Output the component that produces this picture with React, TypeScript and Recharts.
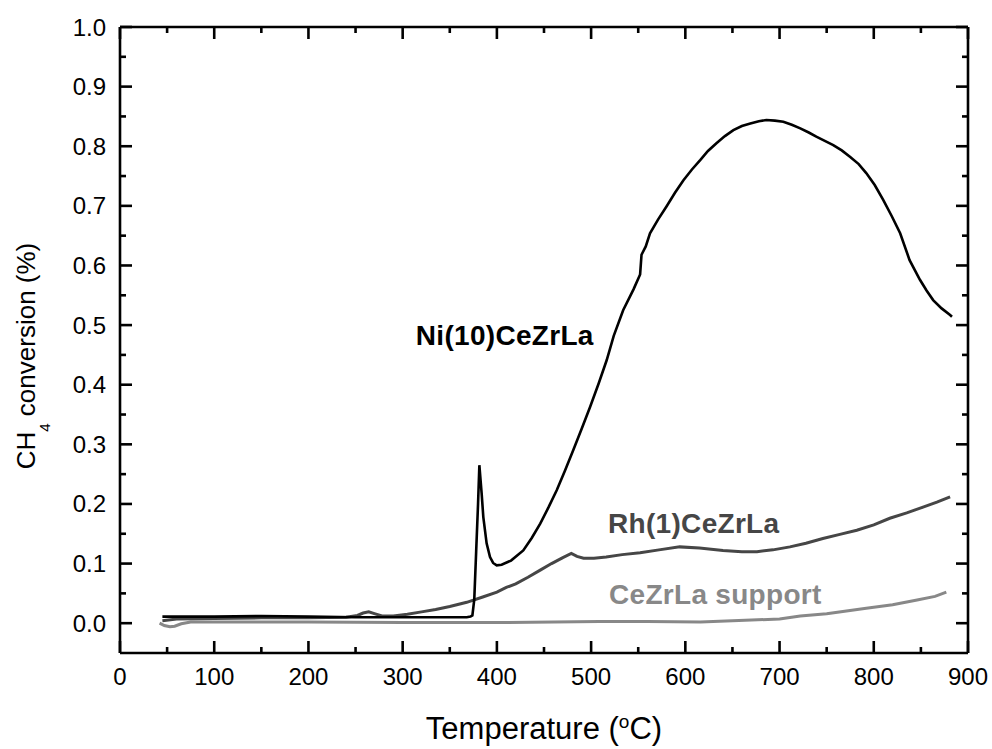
import React from 'react';
import { LineChart, Line, XAxis, YAxis, ReferenceDot } from 'recharts';

// Ni(10)CeZrLa
const niTemp = [45, 100, 150, 200, 250, 300, 350, 368, 372, 374, 376, 378, 380, 381.4, 383.8, 385.6, 389.1, 392.7, 396, 399.8, 405, 415, 428, 437, 446, 455, 463.5, 472, 481, 490, 499, 508, 516.5, 524, 534, 545, 552, 553.5, 558, 562.5, 571, 580, 589, 598, 607, 616, 624, 633, 642, 651, 660, 669, 678, 686, 695, 704, 713, 722, 731, 739, 748, 757, 766, 775, 784, 792, 801, 810, 819, 828, 838, 849, 856, 863, 872, 881, 883];
const niConv = [0.011, 0.011, 0.012, 0.011, 0.010, 0.010, 0.010, 0.010, 0.011, 0.013, 0.04, 0.12, 0.2, 0.265, 0.218, 0.178, 0.134, 0.111, 0.101, 0.097, 0.098, 0.105, 0.122, 0.143, 0.167, 0.195, 0.223, 0.255, 0.29, 0.326, 0.363, 0.402, 0.441, 0.482, 0.525, 0.56, 0.585, 0.618, 0.632, 0.654, 0.677, 0.699, 0.722, 0.743, 0.761, 0.777, 0.792, 0.805, 0.817, 0.827, 0.834, 0.838, 0.842, 0.844, 0.843, 0.841, 0.836, 0.83, 0.823, 0.816, 0.809, 0.802, 0.793, 0.782, 0.77, 0.755, 0.735, 0.71, 0.683, 0.654, 0.609, 0.576, 0.558, 0.542, 0.528, 0.517, 0.514];

// Rh(1)CeZrLa
const rhTemp = [45, 60, 100, 150, 200, 240, 252, 258, 264, 270, 278, 290, 305, 320, 335, 350, 368, 385, 400, 410, 420, 433, 446, 458, 470, 479, 485, 492, 503, 516, 533, 552, 572, 594, 615, 640, 660, 676, 693, 711, 728, 746, 764, 782, 800, 817, 835, 853, 867, 881];
const rhConv = [0.004, 0.007, 0.008, 0.009, 0.009, 0.010, 0.013, 0.017, 0.019, 0.016, 0.012, 0.012, 0.015, 0.019, 0.023, 0.028, 0.035, 0.044, 0.052, 0.06, 0.066, 0.077, 0.089, 0.1, 0.11, 0.117, 0.112, 0.109, 0.109, 0.111, 0.115, 0.118, 0.123, 0.128, 0.126, 0.122, 0.12, 0.12, 0.123, 0.128, 0.134, 0.142, 0.149, 0.156, 0.165, 0.176, 0.185, 0.195, 0.203, 0.212];

// CeZrLa support
const supTemp = [42, 47, 53, 58, 65, 75, 100, 200, 300, 400, 509, 560, 616, 650, 700, 722, 750, 792, 820, 846, 865, 877];
const supConv = [0.0, -0.004, -0.006, -0.005, -0.001, 0.002, 0.002, 0.002, 0.001, 0.001, 0.003, 0.003, 0.002, 0.004, 0.007, 0.012, 0.016, 0.025, 0.031, 0.039, 0.045, 0.052];

const xMajor = [0, 100, 200, 300, 400, 500, 600, 700, 800, 900];
const xMinor = [50, 150, 250, 350, 450, 550, 650, 750, 850];
const yMajor = [0, 0.1, 0.2, 0.3, 0.4, 0.5, 0.6, 0.7, 0.8, 0.9, 1.0];
const yMinor = [0.05, 0.15, 0.25, 0.35, 0.45, 0.55, 0.65, 0.75, 0.85, 0.95];
const xDomain = [0, 900];
const yDomain = [-0.05, 1.0];

const seriesNames = ['Ni(10)CeZrLa', 'Rh(1)CeZrLa', 'CeZrLa support'];

const toPoints = (t: number[], c: number[]) => t.map((v, i) => ({ t: v, c: c[i] }));
const niData = toPoints(niTemp, niConv);
const rhData = toPoints(rhTemp, rhConv);
const supData = toPoints(supTemp, supConv);

// chart layout
const W = 992;
const H = 749;
const M = { top: 26, right: 23, left: 0, bottom: 0 };
const Y_AXIS_W = 120;
const X_AXIS_H = 96;
const PLOT_LEFT = M.left + Y_AXIS_W;
const PLOT_BOTTOM = H - M.bottom - X_AXIS_H;

const FONT = '"Liberation Sans", Arial, Helvetica, sans-serif';
const MAJOR = 12;
const MINOR = 6;
const FRAME_W = 2.6;

// tick labels
const BottomLabel = (p: any) => (
  <text x={p.x} y={PLOT_BOTTOM + 32} textAnchor="middle" fontSize={24} fontFamily={FONT} fill="#000" stroke="none">
    {p.payload.value}
  </text>
);

const LeftLabel = (p: any) => (
  <text x={PLOT_LEFT - 14} y={p.y + 8.5} textAnchor="end" fontSize={24} fontFamily={FONT} fill="#000" stroke="none">
    {Number(p.payload.value).toFixed(1)}
  </text>
);

const NoLabel = () => <g />;

// minor tick marks, anchored on the frame through the axis scales
const tickShape = (dx: number, dy: number) => (p: any) => (
  <path d={`M${p.cx},${p.cy}l${dx},${dy}`} stroke="#000" strokeWidth={FRAME_W} fill="none" />
);

const XTitle = (p: any) => {
  const vb = p.viewBox;
  return (
    <text x={vb.x + vb.width / 2} y={PLOT_BOTTOM + 86} textAnchor="middle" fontSize={31} fontFamily={FONT} fill="#000">
      <tspan>Temperature (</tspan>
      <tspan dy={-11} fontSize={19}>o</tspan>
      <tspan dy={11}>C)</tspan>
    </text>
  );
};

const YTitle = (p: any) => {
  const vb = p.viewBox;
  const cx = PLOT_LEFT - 85;
  const cy = vb.y + vb.height / 2 + 16;
  return (
    <text x={cx} y={cy} transform={`rotate(-90 ${cx} ${cy})`} textAnchor="middle" fontSize={26} fontFamily={FONT} fill="#000">
      <tspan>CH</tspan>
      <tspan dy={15} fontSize={15}>4</tspan>
      <tspan dy={-15}> conversion (%)</tspan>
    </text>
  );
};

const labelShape = (text: string, color: string) => (p: any) => (
  <text x={p.cx} y={p.cy} textAnchor="start" fontSize={28} letterSpacing={0.3} fontWeight="bold" fontFamily={FONT} fill={color}>
    {text}
  </text>
);

const axisLine = { stroke: '#000', strokeWidth: FRAME_W };
const tickLine = { stroke: '#000', strokeWidth: FRAME_W };

export default function App() {
  return (
    <div style={{ position: 'absolute', left: 0, top: 0, width: W, height: H, background: '#fff' }}>
      <LineChart width={W} height={H} margin={M}>
        <XAxis
          xAxisId="b"
          type="number"
          dataKey="t"
          domain={xDomain}
          ticks={xMajor}
          interval={0}
          tickSize={-MAJOR}
          tickMargin={0}
          tickLine={tickLine}
          tick={BottomLabel}
          axisLine={axisLine}
          height={X_AXIS_H}
          allowDataOverflow
          label={{ content: XTitle }}
        />
        <XAxis
          xAxisId="t"
          orientation="top"
          type="number"
          dataKey="t"
          domain={xDomain}
          ticks={xMajor}
          interval={0}
          tickSize={-MAJOR}
          tickLine={tickLine}
          tick={NoLabel}
          axisLine={axisLine}
          height={1}
          allowDataOverflow
        />
        <YAxis
          yAxisId="l"
          type="number"
          domain={yDomain}
          ticks={yMajor}
          interval={0}
          tickSize={-MAJOR}
          tickMargin={0}
          tickLine={tickLine}
          tick={LeftLabel}
          axisLine={axisLine}
          width={Y_AXIS_W}
          allowDataOverflow
          label={{ content: YTitle }}
        />
        <YAxis
          yAxisId="r"
          orientation="right"
          type="number"
          domain={yDomain}
          ticks={yMajor}
          interval={0}
          tickSize={-MAJOR}
          tickLine={tickLine}
          tick={NoLabel}
          axisLine={axisLine}
          width={1}
          allowDataOverflow
        />
        <Line
          xAxisId="b"
          yAxisId="l"
          data={supData}
          dataKey="c"
          name={seriesNames[2]}
          type="linear"
          stroke="#888888"
          strokeWidth={3}
          dot={false}
          isAnimationActive={false}
        />
        {/* the top and right axes share the same domains as the bottom and left ones */}
        <Line
          xAxisId="t"
          yAxisId="r"
          data={rhData}
          dataKey="c"
          name={seriesNames[1]}
          type="linear"
          stroke="#464646"
          strokeWidth={3}
          dot={false}
          isAnimationActive={false}
        />
        <Line
          xAxisId="b"
          yAxisId="l"
          data={niData}
          dataKey="c"
          name={seriesNames[0]}
          type="linear"
          stroke="#000000"
          strokeWidth={2.6}
          dot={false}
          isAnimationActive={false}
        />
        {xMinor.map((v) => (
          <ReferenceDot key={`xb${v}`} xAxisId="b" yAxisId="l" x={v} y={yDomain[0]} r={0} ifOverflow="visible" shape={tickShape(0, -MINOR)} />
        ))}
        {xMinor.map((v) => (
          <ReferenceDot key={`xt${v}`} xAxisId="b" yAxisId="l" x={v} y={yDomain[1]} r={0} ifOverflow="visible" shape={tickShape(0, MINOR)} />
        ))}
        {yMinor.map((v) => (
          <ReferenceDot key={`yl${v}`} xAxisId="b" yAxisId="l" x={xDomain[0]} y={v} r={0} ifOverflow="visible" shape={tickShape(MINOR, 0)} />
        ))}
        {yMinor.map((v) => (
          <ReferenceDot key={`yr${v}`} xAxisId="b" yAxisId="l" x={xDomain[1]} y={v} r={0} ifOverflow="visible" shape={tickShape(-MINOR, 0)} />
        ))}
        <ReferenceDot xAxisId="b" yAxisId="l" x={314} y={0.466} r={0} ifOverflow="visible" shape={labelShape(seriesNames[0], '#000000')} />
        <ReferenceDot xAxisId="b" yAxisId="l" x={518} y={0.151} r={0} ifOverflow="visible" shape={labelShape(seriesNames[1], '#464646')} />
        <ReferenceDot xAxisId="b" yAxisId="l" x={519} y={0.033} r={0} ifOverflow="visible" shape={labelShape(seriesNames[2], '#888888')} />
      </LineChart>
    </div>
  );
}
